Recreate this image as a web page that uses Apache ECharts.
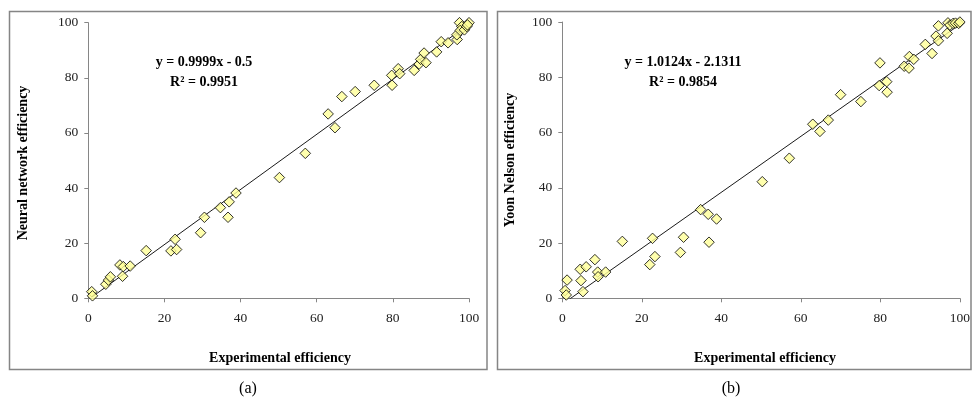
<!DOCTYPE html>
<html>
<head>
<meta charset="utf-8">
<script src="https://cdn.jsdelivr.net/npm/echarts@6/dist/echarts.min.js"></script>
<style>
  html, body { margin: 0; padding: 0; background: #fff; }
  #chart { width: 973px; height: 406px; }
</style>
</head>
<body>
<div id="chart"></div>
<script>
// Panel (a): experimental vs. neural network efficiency
const expA = [0.9, 1.1, 4.6, 5.3, 5.8, 8.3, 9.0, 9.2, 11.0, 15.2, 21.7, 22.8, 23.2, 29.5, 30.5, 34.7, 36.7, 37.0, 38.8,
  50.2, 57.0, 63.0, 64.8, 66.6, 70.1, 75.1,
  79.8, 79.7, 81.4, 81.8, 85.6, 86.9, 87.3, 88.2, 88.7, 91.5, 92.7, 94.5, 96.9, 96.8, 97.5, 98.1, 97.7, 98.8, 99.4, 100, 99.6];
const nnA = [2.4, 0.9, 5.1, 6.6, 7.8, 12.1, 8.0, 11.5, 11.7, 17.3, 17.2, 21.4, 17.7, 23.8, 29.4, 32.9, 29.4, 35.0, 38.2,
  43.8, 52.6, 66.9, 61.9, 73.2, 75.0, 77.3,
  77.3, 80.9, 83.3, 81.5, 82.7, 85.0, 86.7, 89.0, 85.5, 89.4, 93.1, 92.7, 93.9, 95.6, 100, 98.6, 97.2, 97.4, 98.6, 100, 99.2];

// Panel (b): experimental vs. Yoon Nelson efficiency
const expB = [0.7, 1.0, 1.2, 4.5, 4.7, 5.2, 6.0, 8.2, 8.9, 9.0, 10.9, 15.1, 22.0, 22.7, 23.3, 29.7, 30.5, 34.8, 36.7, 36.9, 38.8,
  50.3, 57.1, 63.0, 64.8, 66.9, 70.0, 75.1,
  79.9, 79.7, 81.6, 81.7, 86.0, 87.3, 87.2, 88.4, 91.3, 93.0, 94.0, 94.6, 94.6, 96.8, 97.0, 97.5, 98.3, 98.9, 99.7, 100];
const ynB = [2.8, 1.2, 6.6, 10.5, 6.4, 2.4, 11.4, 14.0, 9.5, 7.8, 9.5, 20.6, 12.2, 21.7, 15.1, 16.6, 22.1, 32.1, 30.4, 20.3, 28.7,
  42.2, 50.7, 63.0, 60.4, 64.5, 73.7, 71.2,
  85.2, 77.0, 78.4, 74.6, 84.0, 87.5, 83.3, 86.5, 91.9, 88.6, 94.9, 93.2, 98.6, 95.9, 99.7, 98.9, 99.5, 99.6, 99.5, 100];

// Linear fits: [slope, intercept] and coefficient of determination
const fitA = [0.9999, -0.5];
const fitB = [1.0124, -2.1311];
const r2A = '0.9951';
const r2B = '0.9854';

const axisTicks = [0, 20, 40, 60, 80, 100];
const panelLabels = ['(a)', '(b)'];
const yTitles = ['Neural network efficiency', 'Yoon Nelson efficiency'];
const xTitle = 'Experimental efficiency';

const SERIF = '"Liberation Serif", "Times New Roman", serif';

function pairs(xs, ys) { return xs.map((x, i) => [x, ys[i]]); }
function fitLine(xs, fit) {
  const lo = Math.min(...xs), hi = Math.max(...xs);
  return [[lo, fit[0] * lo + fit[1]], [hi, fit[0] * hi + fit[1]]];
}
function eqText(fit) {
  const sign = fit[1] < 0 ? ' - ' : ' + ';
  return 'y = ' + fit[0].toFixed(4) + 'x' + sign + Math.abs(fit[1]);
}

function xAxisFor(idx) {
  return {
    gridIndex: idx, type: 'value', min: axisTicks[0], max: axisTicks[axisTicks.length - 1],
    interval: axisTicks[1] - axisTicks[0],
    axisLine: { lineStyle: { color: '#868686', width: 1 } },
    axisTick: { show: true, inside: false, length: 4, lineStyle: { color: '#868686' } },
    axisLabel: { fontFamily: SERIF, fontSize: 13.5, color: '#222', margin: 13 },
    splitLine: { show: false }
  };
}
function yAxisFor(idx) {
  return {
    gridIndex: idx, type: 'value', min: axisTicks[0], max: axisTicks[axisTicks.length - 1],
    interval: axisTicks[1] - axisTicks[0],
    axisLine: { show: true, lineStyle: { color: '#868686', width: 1 } },
    axisTick: { show: true, inside: false, length: 4, lineStyle: { color: '#868686' } },
    axisLabel: { fontFamily: SERIF, fontSize: 13.5, color: '#222', margin: 10 },
    splitLine: { show: false }
  };
}

const pointStyle = { color: '#ffff99', borderColor: '#000', borderWidth: 1 };
const lineStyle = { color: '#1a1a1a', width: 1 };

const chart = echarts.init(document.getElementById('chart'), null, { renderer: 'canvas' });

const boldText = (x, y, text, extra) => Object.assign({
  type: 'text', x: x, y: y,
  style: { text: text, font: 'bold 14px ' + SERIF, fill: '#000', align: 'center', verticalAlign: 'middle' }
}, extra || {});

chart.setOption({
  animation: false,
  backgroundColor: '#fff',
  grid: [
    { left: 88.3, top: 22.7, width: 380.7, height: 275.6 },
    { left: 562.3, top: 22, width: 402.7, height: 276.3 }
  ],
  xAxis: [xAxisFor(0), xAxisFor(1)],
  yAxis: [yAxisFor(0), yAxisFor(1)],
  series: [
    { type: 'line', xAxisIndex: 0, yAxisIndex: 0, data: fitLine(expA, fitA), showSymbol: false, symbol: 'none',
      lineStyle: lineStyle, z: 2, clip: true },
    { type: 'scatter', xAxisIndex: 0, yAxisIndex: 0, data: pairs(expA, nnA), symbol: 'diamond', symbolSize: 10.5,
      itemStyle: pointStyle, z: 3 },
    { type: 'line', xAxisIndex: 1, yAxisIndex: 1, data: fitLine(expB, fitB), showSymbol: false, symbol: 'none',
      lineStyle: lineStyle, z: 2, clip: true },
    { type: 'scatter', xAxisIndex: 1, yAxisIndex: 1, data: pairs(expB, ynB), symbol: 'diamond', symbolSize: 10.5,
      itemStyle: pointStyle, z: 3 }
  ],
  graphic: [
    // panel frames
    { type: 'rect', shape: { x: 9.5, y: 11.5, width: 477.5, height: 358 }, style: { fill: 'none', stroke: '#858585', lineWidth: 1.5 }, z: 0 },
    { type: 'rect', shape: { x: 497.5, y: 11.5, width: 473.5, height: 358 }, style: { fill: 'none', stroke: '#858585', lineWidth: 1.5 }, z: 0 },
    // fit equations
    boldText(204, 62, eqText(fitA)),
    boldText(204, 82, 'R² = ' + r2A),
    boldText(683, 62, eqText(fitB)),
    boldText(683, 82, 'R² = ' + r2B),
    // axis titles
    boldText(280, 358, xTitle),
    boldText(765, 358, xTitle),
    boldText(23, 163, yTitles[0], { rotation: Math.PI / 2 }),
    boldText(510, 160, yTitles[1], { rotation: Math.PI / 2 }),
    // panel captions
    { type: 'text', x: 248, y: 389, style: { text: panelLabels[0], font: '16px ' + SERIF, fill: '#000', align: 'center', verticalAlign: 'middle' } },
    { type: 'text', x: 731, y: 389, style: { text: panelLabels[1], font: '16px ' + SERIF, fill: '#000', align: 'center', verticalAlign: 'middle' } }
  ]
});
</script>
</body>
</html>
